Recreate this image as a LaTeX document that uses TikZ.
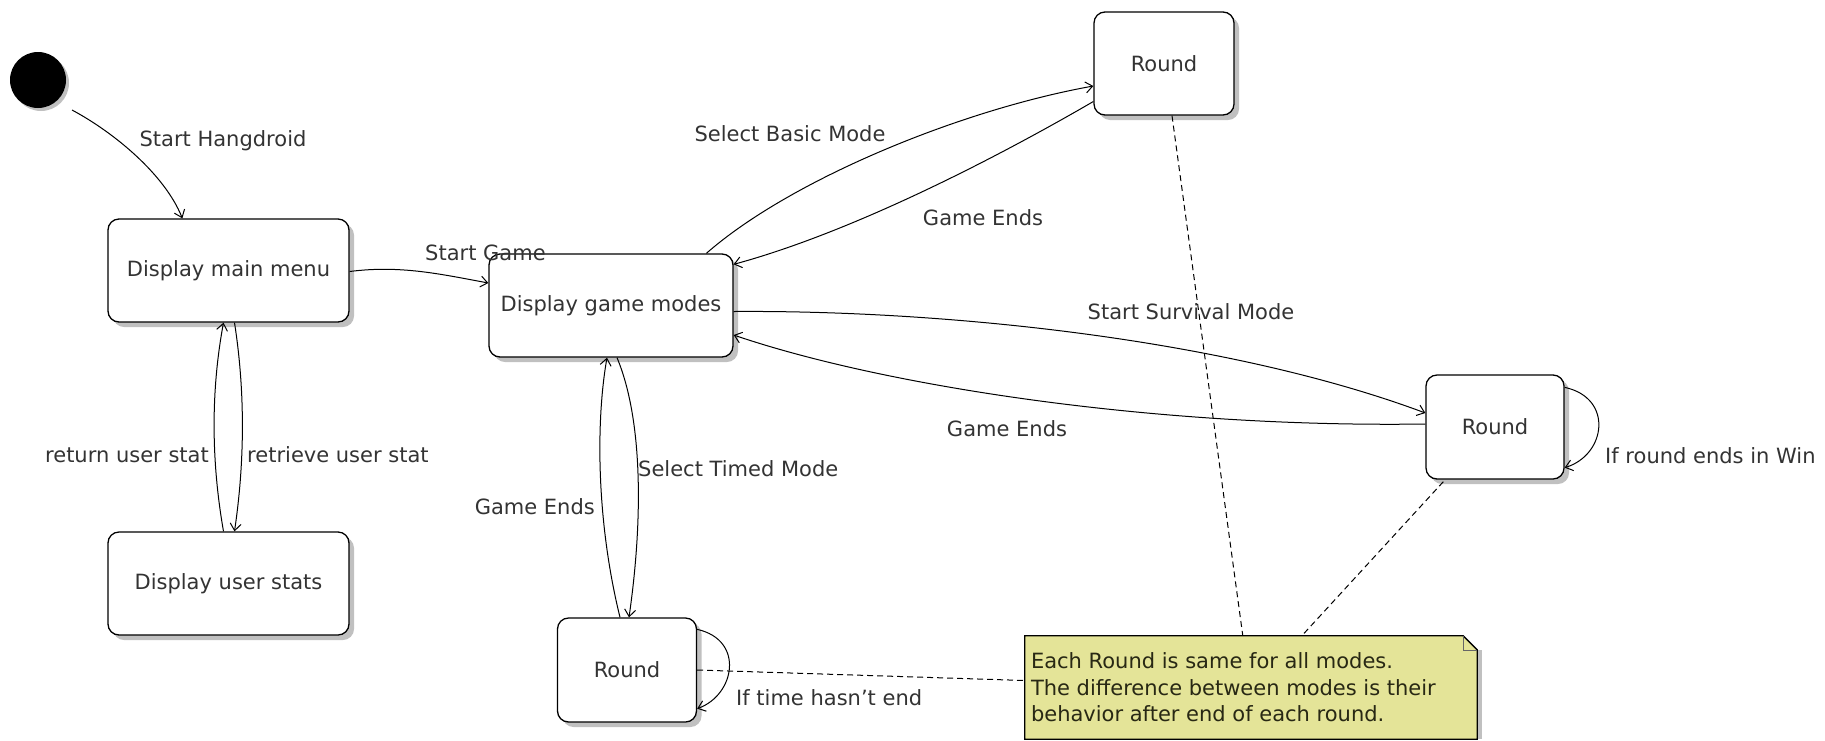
\documentclass[tikz,border=0pt]{standalone}
\usepackage{fontspec}
\setmainfont{DejaVu Sans}
\usetikzlibrary{arrows.meta,calc,shadows}
\definecolor{txtgray}{RGB}{51,51,51}
\definecolor{notefill}{RGB}{228,228,152}
\definecolor{notetext}{RGB}{40,40,20}
\definecolor{shadowgray}{RGB}{192,192,192}
\newcommand\lblfont{\fontsize{21}{26.5}\selectfont}
\tikzset{
  statebox/.style={draw=black, line width=1.3pt, rounded corners=11pt, fill=white,
    text=txtgray, font=\lblfont, inner sep=0pt,
    drop shadow={shadow xshift=5pt, shadow yshift=-5pt, fill=shadowgray, opacity=1}},
  tr/.style={draw=black, line width=1pt, -{Straight Barb[length=7pt,width=11pt,line width=1pt]}},
  lbl/.style={text=txtgray, font=\lblfont, inner sep=0pt},
  notelink/.style={draw=black, line width=1pt, dash pattern=on 6pt off 4pt},
}
\begin{document}
\begin{tikzpicture}[x=1pt,y=-1pt]
\useasboundingbox (0,0) rectangle (1825,740);

% initial state
\node[circle, fill=black, minimum size=56pt, inner sep=0pt,
  drop shadow={shadow xshift=3pt, shadow yshift=-3pt, fill=shadowgray, opacity=1}] (init) at (38,80) {};

% states
\node[statebox, minimum width=241pt, minimum height=103pt] (mm) at (228.5,270.5) {Display main menu};
\node[statebox, minimum width=241pt, minimum height=103pt] (us) at (228.5,583.5) {Display user stats};
\node[statebox, minimum width=244pt, minimum height=103pt] (gm) at (611,305.5) {Display game modes};
\node[statebox, minimum width=140pt, minimum height=103pt] (rt) at (1164,63.5) {Round};
\node[statebox, minimum width=138pt, minimum height=104pt] (rr) at (1495,427) {Round};
\node[statebox, minimum width=139pt, minimum height=104pt] (rb) at (627,670) {Round};

% note
\node[minimum width=452pt, minimum height=103pt, inner sep=0pt] (note) at (1251,687.5) {};
\fill[shadowgray] ($(note.north east)+(0,14)$) rectangle ($(note.south east)+(5,0)$);
\draw[line width=1.3pt, fill=notefill]
  (note.north west) -- ($(note.north east)+(-14,0)$) -- ($(note.north east)+(0,14)$)
  -- (note.south east) -- (note.south west) -- cycle;
\draw[line width=0.6pt, draw=black!60] ($(note.north east)+(-14,0)$) -- ($(note.north east)+(-14,14)$) -- ($(note.north east)+(0,14)$);
\node[anchor=west, align=left, text=notetext, font=\lblfont, inner sep=0pt] (notetxt) at ($(note.west)+(6,0)$)
  {Each Round is same for all modes.\\The difference between modes is their\\behavior after end of each round.};

% transitions
\draw[tr] ($(init.center)+(34,30)$) .. controls (115,133) and (165,175) .. ($(mm.north west)+(75,0)$);
\draw[tr] ($(mm.east)+(0,1)$) .. controls (400,265) and (440,274) .. ($(gm.west)+(0,-22.5)$);
\draw[tr] ($(mm.south)+(6,0)$) .. controls (245,390) and (245,460) .. ($(us.north)+(6,0)$);
\draw[tr] ($(us.north)+(-5,0)$) .. controls (211,460) and (211,390) .. ($(mm.south)+(-5,0)$);
\draw[tr] ($(gm.north west)+(218,0)$) .. controls (790,180) and (960,110) .. ($(rt.west)+(0,22.5)$);
\draw[tr] ($(rt.west)+(0,38)$) .. controls (1010,150) and (860,230) .. ($(gm.north east)+(0,11)$);
\draw[tr] ($(gm.east)+(0,6)$) .. controls (950,310) and (1230,340) .. ($(rr.west)+(0,-14)$);
\draw[tr] ($(rr.west)+(0,-3)$) .. controls (1150,428) and (880,385) .. ($(gm.east)+(0,29.5)$);
\draw[tr] ($(rb.north)+(-7,0)$) .. controls (596,520) and (596,420) .. ($(gm.south)+(-4,0)$);
\draw[tr] ($(gm.south)+(6,0)$) .. controls (643,420) and (643,520) .. ($(rb.north)+(2,0)$);
\draw[tr] ($(rb.north east)+(0,12)$) .. controls (745,640) and (735,695) .. ($(rb.south east)+(0,-14)$);
\draw[tr] ($(rr.north east)+(0,13)$) .. controls (1614,398) and (1606,455) .. ($(rr.south east)+(0,-12)$);

% note links
\draw[notelink] ($(rt.south)+(8,0)$) -- ($(note.north west)+(218,0)$);
\draw[notelink] ($(rr.south west)+(18,2)$) -- ($(note.north west)+(277,0)$);
\draw[notelink] (rb.east) -- ($(note.west)+(0,-7)$);

% labels
\node[lbl] (l1) at (223,141) {Start Hangdroid};
\node[lbl, anchor=west] (l2) at (425,253) {Start Game};
\node[lbl] (l3) at (790,134) {Select Basic Mode};
\node[lbl] (l4) at (983,218) {Game Ends};
\node[lbl] (l5) at (1191,312) {Start Survival Mode};
\node[lbl] (l6) at (1007,429) {Game Ends};
\node[lbl, anchor=west] (l7) at (1605,456) {If round ends in Win};
\node[lbl, anchor=east] (l8) at (209,455) {return user stat};
\node[lbl, anchor=west] (l9) at (247,455) {retrieve user stat};
\node[lbl, anchor=west] (l10) at (638,469) {Select Timed Mode};
\node[lbl, anchor=east] (l11) at (595,507) {Game Ends};
\node[lbl, anchor=west] (l12) at (736,698) {If time hasn{\char"27}t end};
\end{tikzpicture}
\end{document}
